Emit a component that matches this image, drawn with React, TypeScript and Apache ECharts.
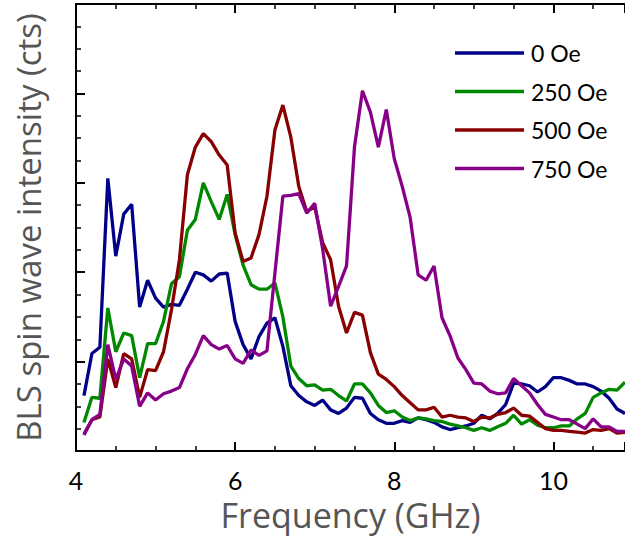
import React, { useEffect, useRef } from "react";
import * as echarts from "echarts";

const freqs = [
  4.1, 4.2, 4.3, 4.4, 4.5, 4.6, 4.7, 4.8, 4.9, 5.0,
  5.1, 5.2, 5.3, 5.4, 5.5, 5.6, 5.7, 5.8, 5.9, 6.0,
  6.1, 6.2, 6.3, 6.4, 6.5, 6.6, 6.7, 6.8, 6.9, 7.0,
  7.1, 7.2, 7.3, 7.4, 7.5, 7.6, 7.7, 7.8, 7.9, 8.0,
  8.1, 8.2, 8.3, 8.4, 8.5, 8.6, 8.7, 8.8, 8.9, 9.0,
  9.1, 9.2, 9.3, 9.4, 9.5, 9.6, 9.7, 9.8, 9.9, 10.0,
  10.1, 10.2, 10.3, 10.4, 10.5, 10.6, 10.7, 10.8, 10.9,
];

const oe0 = [
  0.62, 1.09, 1.16, 3.05, 2.18, 2.65, 2.76, 1.61, 1.91, 1.71,
  1.61, 1.64, 1.63, 1.81, 2.0, 1.97, 1.9, 1.98, 1.99, 1.45,
  1.19, 1.03, 1.28, 1.43, 1.49, 1.17, 0.73, 0.62, 0.55, 0.51,
  0.57, 0.46, 0.42, 0.48, 0.6, 0.59, 0.42, 0.35, 0.31, 0.31,
  0.34, 0.32, 0.37, 0.35, 0.32, 0.27, 0.24, 0.26, 0.28, 0.31,
  0.4, 0.36, 0.42, 0.52, 0.76, 0.75, 0.73, 0.66, 0.72, 0.82,
  0.82, 0.79, 0.75, 0.75, 0.72, 0.67, 0.59, 0.47, 0.42,
];

const oe250 = [
  0.32, 0.6, 0.59, 1.6, 1.11, 1.32, 1.29, 0.82, 1.2, 1.2,
  1.45, 1.87, 1.95, 2.47, 2.59, 3.0, 2.79, 2.59, 2.87, 2.42,
  2.08, 1.86, 1.81, 1.81, 1.88, 1.5, 0.95, 0.81, 0.73, 0.74,
  0.68, 0.69, 0.62, 0.56, 0.75, 0.75, 0.65, 0.51, 0.43, 0.45,
  0.38, 0.34, 0.37, 0.36, 0.34, 0.33, 0.3, 0.28, 0.26, 0.23,
  0.26, 0.23, 0.27, 0.31, 0.4, 0.3, 0.35, 0.29, 0.26, 0.26,
  0.28, 0.28, 0.36, 0.42, 0.6, 0.65, 0.69, 0.68, 0.77,
];

const oe500 = [
  0.19, 0.35, 0.38, 1.03, 0.71, 1.09, 1.03, 0.6, 0.91, 0.9,
  1.11, 1.58, 2.14, 3.09, 3.4, 3.55, 3.46, 3.31, 3.2, 2.44,
  2.12, 2.16, 2.42, 2.85, 3.59, 3.87, 3.51, 2.96, 2.68, 2.73,
  2.33, 2.14, 1.62, 1.32, 1.55, 1.52, 1.1, 0.86, 0.8, 0.72,
  0.62, 0.54, 0.46, 0.46, 0.49, 0.38, 0.4, 0.38, 0.37, 0.33,
  0.38, 0.37, 0.41, 0.43, 0.48, 0.4, 0.39, 0.32, 0.25, 0.23,
  0.23, 0.22, 0.21, 0.2, 0.24, 0.23, 0.25, 0.2, 0.21,
];

const oe750 = [
  0.18, 0.35, 0.41, 1.19, 0.8, 1.03, 0.95, 0.5, 0.65, 0.57,
  0.64, 0.67, 0.71, 0.92, 1.08, 1.29, 1.19, 1.14, 1.18, 1.03,
  0.98, 1.13, 1.07, 1.12, 1.99, 2.85, 2.86, 2.88, 2.66, 2.77,
  2.26, 1.62, 1.84, 2.07, 3.4, 4.03, 3.79, 3.4, 3.82, 3.27,
  2.96, 2.61, 1.97, 1.91, 2.07, 1.49, 1.29, 1.04, 0.91, 0.76,
  0.75, 0.67, 0.64, 0.65, 0.81, 0.73, 0.65, 0.52, 0.41, 0.38,
  0.35, 0.35, 0.3, 0.25, 0.36, 0.27, 0.27, 0.22, 0.22,
];

const seriesNames = ["0 Oe", "250 Oe", "500 Oe", "750 Oe"];
const seriesColors = ["#000088", "#008800", "#880000", "#880088"];
const seriesValues = [oe0, oe250, oe500, oe750];

const FONT = "Lato, 'Open Sans', sans-serif";
const TITLE_FONT = "'Open Sans', Lato, sans-serif";

export default function App() {
  const ref = useRef<HTMLDivElement>(null);
  useEffect(() => {
    if (!ref.current) return;
    const chart = echarts.init(ref.current, null, { renderer: "svg" });
    const axisLine = { show: true, onZero: false, lineStyle: { color: "#000", width: 2 } };
    const axisTick = { show: true, inside: true, length: 9, lineStyle: { color: "#000", width: 2 } };
    const minorTick = { show: true, splitNumber: 4, length: 5, lineStyle: { color: "#000", width: 1.5 } };
    chart.setOption({
      animation: false,
      backgroundColor: "#fff",
      grid: { left: 76, right: 0, top: 4, bottom: 85, containLabel: false },
      legend: {
        orient: "vertical",
        left: 455,
        top: 41,
        padding: 0,
        itemWidth: 69,
        itemHeight: 3.5,
        itemGap: 14.5,
        icon: "rect",
        data: seriesNames,
        textStyle: { fontFamily: FONT, fontSize: 23, color: "#000", lineHeight: 24, padding: [0, 0, 0, 2] },
      },
      xAxis: [
        {
          type: "value",
          min: 4,
          max: 10.9,
          interval: 2,
          position: "bottom",
          axisLine,
          axisTick,
          minorTick,
          splitLine: { show: false },
          minorSplitLine: { show: false },
          axisLabel: {
            fontFamily: FONT,
            fontSize: 25,
            color: "#000",
            margin: 16,
            showMaxLabel: false,
          },
          name: "Frequency (GHz)",
          nameLocation: "middle",
          nameGap: 47,
          nameTextStyle: { fontFamily: TITLE_FONT, fontSize: 34, color: "#555" },
        },
        {
          type: "value",
          min: 4,
          max: 10.9,
          interval: 2,
          position: "top",
          axisLine,
          axisTick,
          minorTick,
          splitLine: { show: false },
          axisLabel: { show: false },
        },
      ],
      yAxis: {
        type: "value",
        min: 0,
        max: 5,
        interval: 1,
        axisLine,
        axisTick,
        minorTick,
        splitLine: { show: false },
        minorSplitLine: { show: false },
        axisLabel: { show: false },
        name: "BLS spin wave intensity (cts)",
        nameLocation: "middle",
        nameGap: 31,
        nameTextStyle: { fontFamily: TITLE_FONT, fontSize: 33, color: "#555" },
      },
      series: seriesValues.map((vals, i) => ({
        name: seriesNames[i],
        type: "line",
        xAxisIndex: 0,
        showSymbol: false,
        symbol: "none",
        color: seriesColors[i],
        lineStyle: { width: 3.3, color: seriesColors[i] },
        data: freqs.map((f, k) => [f, vals[k]]),
      })),
    });
    return () => chart.dispose();
  }, []);
  return (
    <div style={{ position: "fixed", left: 0, top: 0, width: 625, height: 537, overflow: "hidden", background: "#fff" }}>
      <div ref={ref} style={{ width: 625, height: 537 }} />
    </div>
  );
}
